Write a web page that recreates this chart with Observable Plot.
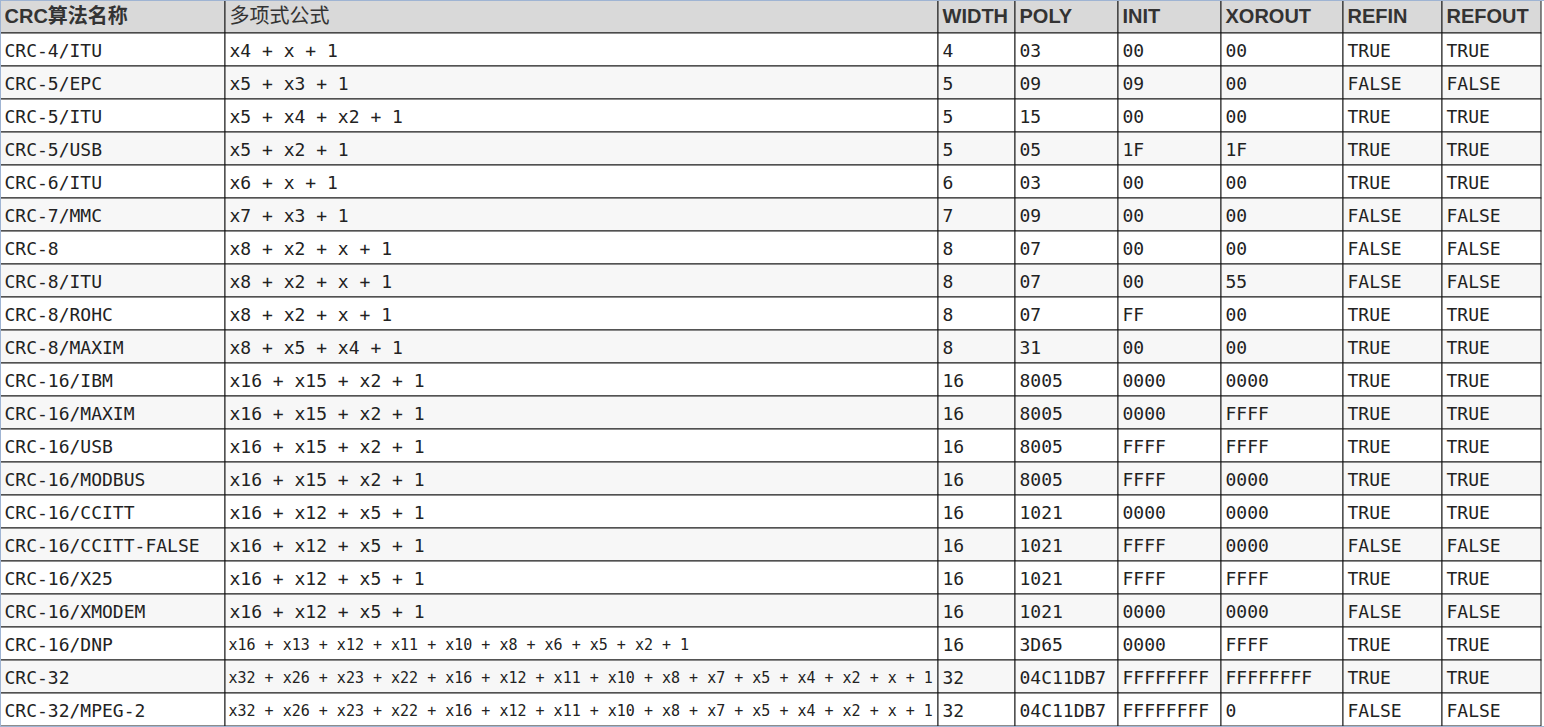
<!DOCTYPE html>
<html>
<head>
<meta charset="utf-8">
<script src="https://cdn.jsdelivr.net/npm/d3@7"></script>
<script src="https://cdn.jsdelivr.net/npm/@observablehq/plot@0.6"></script>
<style>
  html, body { margin: 0; padding: 0; background: #fff; }
  #chart svg { display: block; }
</style>
</head>
<body>
<div id="chart"></div>
<script>
// ---- data ----
const headers = ["CRC算法名称", "多项式公式", "WIDTH", "POLY", "INIT", "XOROUT", "REFIN", "REFOUT"];
const names = ["CRC-4/ITU", "CRC-5/EPC", "CRC-5/ITU", "CRC-5/USB", "CRC-6/ITU", "CRC-7/MMC", "CRC-8", "CRC-8/ITU", "CRC-8/ROHC", "CRC-8/MAXIM",
  "CRC-16/IBM", "CRC-16/MAXIM", "CRC-16/USB", "CRC-16/MODBUS", "CRC-16/CCITT", "CRC-16/CCITT-FALSE", "CRC-16/X25", "CRC-16/XMODEM", "CRC-16/DNP", "CRC-32", "CRC-32/MPEG-2"];
const formulas = ["x4 + x + 1", "x5 + x3 + 1", "x5 + x4 + x2 + 1", "x5 + x2 + 1", "x6 + x + 1", "x7 + x3 + 1", "x8 + x2 + x + 1", "x8 + x2 + x + 1", "x8 + x2 + x + 1", "x8 + x5 + x4 + 1",
  "x16 + x15 + x2 + 1", "x16 + x15 + x2 + 1", "x16 + x15 + x2 + 1", "x16 + x15 + x2 + 1",
  "x16 + x12 + x5 + 1", "x16 + x12 + x5 + 1", "x16 + x12 + x5 + 1", "x16 + x12 + x5 + 1",
  "x16 + x13 + x12 + x11 + x10 + x8 + x6 + x5 + x2 + 1",
  "x32 + x26 + x23 + x22 + x16 + x12 + x11 + x10 + x8 + x7 + x5 + x4 + x2 + x + 1",
  "x32 + x26 + x23 + x22 + x16 + x12 + x11 + x10 + x8 + x7 + x5 + x4 + x2 + x + 1"];
const widths = ["4", "5", "5", "5", "6", "7", "8", "8", "8", "8", "16", "16", "16", "16", "16", "16", "16", "16", "16", "32", "32"];
const polys = ["03", "09", "15", "05", "03", "09", "07", "07", "07", "31", "8005", "8005", "8005", "8005", "1021", "1021", "1021", "1021", "3D65", "04C11DB7", "04C11DB7"];
const inits = ["00", "09", "00", "1F", "00", "00", "00", "00", "FF", "00", "0000", "0000", "FFFF", "FFFF", "0000", "FFFF", "FFFF", "0000", "0000", "FFFFFFFF", "FFFFFFFF"];
const xorouts = ["00", "00", "00", "1F", "00", "00", "00", "55", "00", "00", "0000", "FFFF", "FFFF", "0000", "0000", "0000", "FFFF", "0000", "FFFF", "FFFFFFFF", "0"];
const refins = ["TRUE", "FALSE", "TRUE", "TRUE", "TRUE", "FALSE", "FALSE", "FALSE", "TRUE", "TRUE", "TRUE", "TRUE", "TRUE", "TRUE", "TRUE", "FALSE", "TRUE", "FALSE", "TRUE", "TRUE", "FALSE"];
const refouts = ["TRUE", "FALSE", "TRUE", "TRUE", "TRUE", "FALSE", "FALSE", "FALSE", "TRUE", "TRUE", "TRUE", "TRUE", "TRUE", "TRUE", "TRUE", "FALSE", "TRUE", "FALSE", "TRUE", "TRUE", "FALSE"];

// ---- layout (column boundaries in px) ----
const colEdges = [0, 225, 938, 1015, 1118, 1221, 1343, 1442, 1541];

// ---- build cells ----
const columns = [names, formulas, widths, polys, inits, xorouts, refins, refouts];
const cells = [];
headers.forEach((h, c) => cells.push({row: 0, col: c, text: h}));
names.forEach((_, r) => columns.forEach((arr, c) => cells.push({row: r + 1, col: c, text: arr[r]})));
cells.forEach(d => { d.x1 = colEdges[d.col]; d.x2 = colEdges[d.col + 1]; });

const rowIds = d3.range(names.length + 1);
const bg = d => d.row === 0 ? "#d9d9d9" : (d.row % 2 === 0 ? "#f7f7f7" : "#ffffff");

const headerCells = cells.filter(d => d.row === 0);
const bodyCells = cells.filter(d => d.row > 0);
const isLong = d => d.text.length > 40;

const chart = Plot.plot({
  width: 1544,
  height: 727,
  marginTop: 0, marginRight: 0, marginBottom: 1, marginLeft: 0,
  x: {domain: [0, 1544], axis: null},
  y: {type: "band", domain: rowIds, padding: 0, axis: null},
  style: {background: "#ffffff"},
  marks: [
    Plot.barX(cells, {x1: "x1", x2: "x2", y: "row", fill: bg, stroke: "#1a1a1a", strokeWidth: 1}),
    Plot.frame({stroke: "#9fb4d3", strokeWidth: 1}),
    Plot.text(headerCells.filter(d => d.col !== 1), {x: "x1", y: "row", text: "text", textAnchor: "start", dx: 4, dy: 0,
      fontFamily: "'Liberation Sans', 'Noto Sans CJK SC', sans-serif", fontWeight: "bold", fontSize: 20, fill: "#333333"}),
    Plot.text(headerCells.filter(d => d.col === 1), {x: "x1", y: "row", text: "text", textAnchor: "start", dx: 4, dy: 0,
      fontFamily: "'Noto Sans CJK SC', sans-serif", fontSize: 20, fill: "#333333"}),
    Plot.text(bodyCells.filter(d => !isLong(d)), {x: "x1", y: "row", text: "text", textAnchor: "start", dx: 4, dy: 1,
      fontFamily: "'DejaVu Sans Mono', monospace", fontSize: 18, fill: "#222222"}),
    Plot.text(bodyCells.filter(isLong), {x: "x1", y: "row", text: "text", textAnchor: "start", dx: 3, dy: 1,
      fontFamily: "'DejaVu Sans Mono', monospace", fontSize: 15, fill: "#222222"})
  ]
});
document.getElementById("chart").appendChild(chart);
</script>
</body>
</html>
